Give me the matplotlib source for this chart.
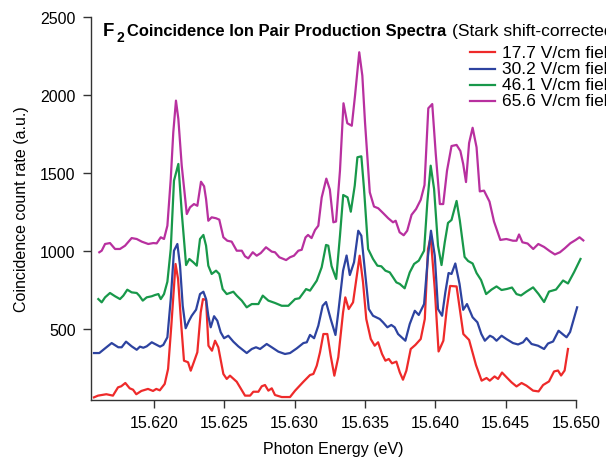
import numpy as np
import matplotlib
matplotlib.use('Agg')
import matplotlib.pyplot as plt
from matplotlib.lines import Line2D

plt.rcParams['font.family'] = ['Liberation Sans', 'DejaVu Sans']

# photon energy (eV) and coincidence count rate (a.u.)
e_177 = [15.61573, 15.61602, 15.61661, 15.61708, 15.61744, 15.61767, 15.61796, 15.61827, 15.61851, 15.61874,
         15.61910, 15.61957, 15.61993, 15.62016, 15.62041, 15.62076, 15.62100, 15.62123, 15.62153, 15.62171,
         15.62194, 15.62213, 15.62242, 15.62261, 15.62284, 15.62308, 15.62332, 15.62348, 15.62370, 15.62387,
         15.62412, 15.62434, 15.62457, 15.62493, 15.62517, 15.62540, 15.62588, 15.62647, 15.62683, 15.62706,
         15.62742, 15.62766, 15.62789, 15.62813, 15.62837, 15.62860, 15.62908, 15.62967, 15.63003, 15.63062,
         15.63109, 15.63133, 15.63157, 15.63180, 15.63204, 15.63232, 15.63256, 15.63282, 15.63310, 15.63344,
         15.63360, 15.63384, 15.63415, 15.63462, 15.63486, 15.63509, 15.63541, 15.63569, 15.63593, 15.63621,
         15.63645, 15.63669, 15.63692, 15.63723, 15.63747, 15.63770, 15.63794, 15.63825, 15.63858, 15.63896,
         15.63925, 15.63948, 15.63967, 15.63996, 15.64023, 15.64057, 15.64081, 15.64105, 15.64151, 15.64176,
         15.64199, 15.64240, 15.64289, 15.64329, 15.64364, 15.64387, 15.64421, 15.64446, 15.64474, 15.64506,
         15.64542, 15.64577, 15.64613, 15.64648, 15.64695, 15.64734, 15.64766, 15.64808, 15.64844, 15.64872,
         15.64894, 15.64919, 15.64943]
c_177 = [62, 73, 82, 73, 126, 133, 154, 120, 111, 82,
         103, 116, 103, 116, 107, 148, 244, 521, 917, 821,
         521, 297, 287, 233, 290, 351, 607, 692, 686, 393,
         361, 425, 383, 212, 180, 201, 162, 73, 73, 98,
         98, 133, 141, 105, 120, 77, 64, 64, 105, 162,
         205, 212, 265, 351, 468, 468, 329, 201, 319, 607,
         703, 628, 671, 970, 799, 564, 436, 393, 415, 340,
         297, 308, 280, 291, 223, 175, 233, 372, 398, 436,
         564, 1013, 1090, 756, 356, 425, 628, 776, 773, 615,
         468, 430, 269, 169, 186, 169, 196, 180, 221, 191,
         158, 132, 154, 137, 105, 100, 141, 164, 228, 234,
         202, 234, 372]

e_302 = [15.61573, 15.61611, 15.61652, 15.61699, 15.61746, 15.61770, 15.61801, 15.61841, 15.61877, 15.61900,
         15.61924, 15.61948, 15.61984, 15.62007, 15.62043, 15.62066, 15.62095, 15.62119, 15.62142, 15.62166,
         15.62185, 15.62204, 15.62225, 15.62249, 15.62268, 15.62299, 15.62327, 15.62351, 15.62370, 15.62386,
         15.62403, 15.62427, 15.62450, 15.62474, 15.62498, 15.62528, 15.62564, 15.62599, 15.62659, 15.62695,
         15.62725, 15.62754, 15.62801, 15.62837, 15.62884, 15.62931, 15.62967, 15.63015, 15.63062, 15.63086,
         15.63109, 15.63138, 15.63168, 15.63199, 15.63223, 15.63256, 15.63290, 15.63310, 15.63344, 15.63369,
         15.63392, 15.63422, 15.63452, 15.63474, 15.63498, 15.63527, 15.63557, 15.63605, 15.63628, 15.63659,
         15.63687, 15.63711, 15.63735, 15.63787, 15.63818, 15.63854, 15.63882, 15.63920, 15.63948, 15.63969,
         15.63996, 15.64019, 15.64048, 15.64071, 15.64094, 15.64115, 15.64142, 15.64172, 15.64198, 15.64225,
         15.64265, 15.64299, 15.64327, 15.64352, 15.64388, 15.64410, 15.64435, 15.64471, 15.64505, 15.64552,
         15.64588, 15.64624, 15.64648, 15.64684, 15.64730, 15.64773, 15.64801, 15.64837, 15.64876, 15.64908,
         15.64933, 15.64958, 15.65008]
c_302 = [346, 346, 376, 410, 383, 383, 419, 389, 367, 387,
         380, 389, 415, 404, 387, 398, 447, 692, 1002, 1045,
         906, 649, 505, 553, 585, 624, 724, 739, 692, 585,
         511, 582, 553, 479, 441, 457, 419, 389, 346, 372,
         383, 372, 404, 383, 355, 340, 346, 376, 410, 415,
         462, 441, 521, 649, 673, 564, 462, 607, 874, 971,
         846, 928, 1130, 1098, 885, 628, 585, 564, 543, 511,
         526, 511, 468, 425, 532, 617, 590, 660, 970, 1130,
         970, 628, 585, 735, 859, 853, 920, 789, 623, 660,
         575, 543, 468, 425, 457, 447, 425, 457, 436, 410,
         401, 415, 442, 404, 393, 372, 407, 420, 489, 465,
         447, 481, 639]

e_461 = [15.61604, 15.61628, 15.61652, 15.61687, 15.61723, 15.61758, 15.61782, 15.61810, 15.61841, 15.61877,
         15.61895, 15.61920, 15.61948, 15.61984, 15.62007, 15.62031, 15.62048, 15.62071, 15.62095, 15.62119,
         15.62142, 15.62173, 15.62197, 15.62228, 15.62251, 15.62279, 15.62304, 15.62327, 15.62351, 15.62370,
         15.62386, 15.62410, 15.62441, 15.62464, 15.62488, 15.62517, 15.62564, 15.62588, 15.62624, 15.62659,
         15.62695, 15.62742, 15.62773, 15.62813, 15.62860, 15.62908, 15.62955, 15.63003, 15.63033, 15.63081,
         15.63109, 15.63157, 15.63192, 15.63223, 15.63239, 15.63262, 15.63295, 15.63322, 15.63345, 15.63376,
         15.63399, 15.63427, 15.63446, 15.63474, 15.63493, 15.63522, 15.63557, 15.63588, 15.63616, 15.63645,
         15.63676, 15.63699, 15.63723, 15.63747, 15.63782, 15.63818, 15.63849, 15.63882, 15.63920, 15.63943,
         15.63967, 15.63991, 15.64019, 15.64044, 15.64067, 15.64090, 15.64115, 15.64151, 15.64174, 15.64208,
         15.64233, 15.64265, 15.64293, 15.64325, 15.64361, 15.64400, 15.64435, 15.64471, 15.64510, 15.64545,
         15.64577, 15.64609, 15.64648, 15.64695, 15.64734, 15.64773, 15.64808, 15.64858, 15.64908, 15.64943,
         15.64986, 15.65032]
c_461 = [692, 671, 703, 731, 710, 692, 714, 752, 735, 731,
         714, 682, 703, 710, 718, 724, 692, 724, 803, 1013,
         1451, 1558, 1248, 910, 949, 928, 906, 1077, 1103, 1034,
         906, 853, 874, 853, 756, 724, 739, 714, 682, 639,
         660, 660, 714, 682, 667, 649, 649, 692, 697, 756,
         746, 810, 896, 1039, 1034, 904, 821, 1098, 1359, 1344,
         1252, 1419, 1601, 1607, 1398, 1013, 949, 906, 902, 874,
         863, 832, 799, 789, 761, 863, 917, 938, 1002, 1312,
         1547, 1398, 1034, 910, 1056, 1180, 1199, 1321, 1196, 962,
         936, 920, 859, 814, 724, 753, 773, 750, 757, 766,
         724, 715, 740, 767, 724, 673, 740, 753, 811, 792,
         864, 949]

e_656 = [15.61611, 15.61628, 15.61652, 15.61687, 15.61723, 15.61758, 15.61794, 15.61841, 15.61877, 15.61913,
         15.61959, 15.61995, 15.62019, 15.62048, 15.62071, 15.62095, 15.62119, 15.62137, 15.62156, 15.62173,
         15.62197, 15.62233, 15.62256, 15.62284, 15.62308, 15.62334, 15.62356, 15.62370, 15.62386, 15.62410,
         15.62441, 15.62464, 15.62493, 15.62521, 15.62552, 15.62588, 15.62624, 15.62647, 15.62670, 15.62702,
         15.62730, 15.62759, 15.62796, 15.62837, 15.62860, 15.62891, 15.62939, 15.62967, 15.62995, 15.63026,
         15.63050, 15.63077, 15.63095, 15.63120, 15.63145, 15.63168, 15.63192, 15.63225, 15.63250, 15.63275,
         15.63294, 15.63322, 15.63347, 15.63374, 15.63406, 15.63429, 15.63459, 15.63481, 15.63500, 15.63534,
         15.63564, 15.63594, 15.63630, 15.63665, 15.63699, 15.63718, 15.63746, 15.63775, 15.63800, 15.63831,
         15.63863, 15.63896, 15.63923, 15.63950, 15.63978, 15.64003, 15.64032, 15.64056, 15.64083, 15.64115,
         15.64151, 15.64178, 15.64198, 15.64218, 15.64240, 15.64265, 15.64293, 15.64316, 15.64346, 15.64385,
         15.64417, 15.64462, 15.64505, 15.64552, 15.64577, 15.64595, 15.64619, 15.64656, 15.64696, 15.64732,
         15.64773, 15.64814, 15.64850, 15.64886, 15.64921, 15.64960, 15.64998, 15.65025, 15.65052]
c_656 = [992, 1002, 1045, 1051, 1013, 1013, 1034, 1083, 1077, 1060,
         1045, 1051, 1049, 1088, 1077, 1162, 1462, 1761, 1964, 1846,
         1547, 1237, 1280, 1301, 1290, 1444, 1415, 1333, 1194, 1216,
         1210, 1201, 1088, 1066, 1060, 1002, 1002, 966, 953, 992,
         970, 987, 1024, 996, 992, 960, 942, 960, 970, 1002,
         1008, 1087, 1103, 1083, 1135, 1162, 1343, 1464, 1394, 1184,
         1189, 1515, 1947, 1819, 1803, 1996, 2274, 2124, 1825, 1376,
         1285, 1274, 1242, 1210, 1184, 1194, 1120, 1101, 1130, 1232,
         1269, 1328, 1423, 1915, 1942, 1622, 1301, 1301, 1515, 1673,
         1680, 1641, 1558, 1442, 1692, 1790, 1665, 1382, 1387, 1317,
         1189, 1071, 1077, 1066, 1066, 1106, 1056, 1048, 1013, 1045,
         1026, 999, 978, 992, 1018, 1050, 1071, 1088, 1068]

labels = ['17.7 V/cm field', '30.2 V/cm field', '46.1 V/cm field', '65.6 V/cm field']
colors = ['#ee2a2a', '#2d43a0', '#18984a', '#b8309f']
xticks = [15.620, 15.625, 15.630, 15.635, 15.640, 15.645, 15.650]
yticks = [500, 1000, 1500, 2000, 2500]

W, H = 606, 460
fig = plt.figure(figsize=(W/100, H/100), dpi=100)
ax = fig.add_axes([91/W, 1-401/H, (576-91)/W, (401-18)/H])

series = [(e_177, c_177), (e_302, c_302), (e_461, c_461), (e_656, c_656)]
for (x, y), col in zip(series, colors):
    ax.plot(x, y, color=col, lw=1.6, clip_on=False)

ax.set_xlim(15.61552, 15.650)
ax.set_ylim(45, 2500)
ax.set_xticks(xticks)
ax.set_xticklabels(['%.3f' % v for v in xticks])
ax.set_yticks(yticks)
ax.set_yticklabels([str(v) for v in yticks])
for s in ['top', 'right']:
    ax.spines[s].set_visible(False)
for s in ['left', 'bottom']:
    ax.spines[s].set_color('#333333')
    ax.spines[s].set_linewidth(1.0)
ax.tick_params(direction='out', length=6, width=1.0, color='#333333',
               labelsize=11.5, pad=5)
ax.set_xlabel('Photon Energy (eV)', fontsize=11.5, labelpad=8)
ax.set_ylabel('Coincidence count rate (a.u.)', fontsize=11.5, labelpad=8)

# title pieces
fig.text(103/W, 1-36/H, 'F', fontsize=13.4, fontweight='bold', va='baseline')
fig.text(116/W, 1-41.5/H, '2', fontsize=10, fontweight='bold', va='baseline')
fig.text(127/W, 1-36/H, 'Coincidence Ion Pair Production Spectra', fontsize=11.9,
         fontweight='bold', va='baseline')
fig.text(451.5/W, 1-36/H, '(Stark shift-corrected)', fontsize=12.5, va='baseline')

# legend
rows = [53.3, 69.5, 85.8, 102]
for yy, col, lab in zip(rows, colors, labels):
    fig.add_artist(Line2D([470/W, 495/W], [1-yy/H, 1-yy/H], color=col, lw=1.6))
    fig.text(501.5/W, 1-yy/H, lab, fontsize=12.5, va='center')

fig.savefig('out.png', dpi=100)
